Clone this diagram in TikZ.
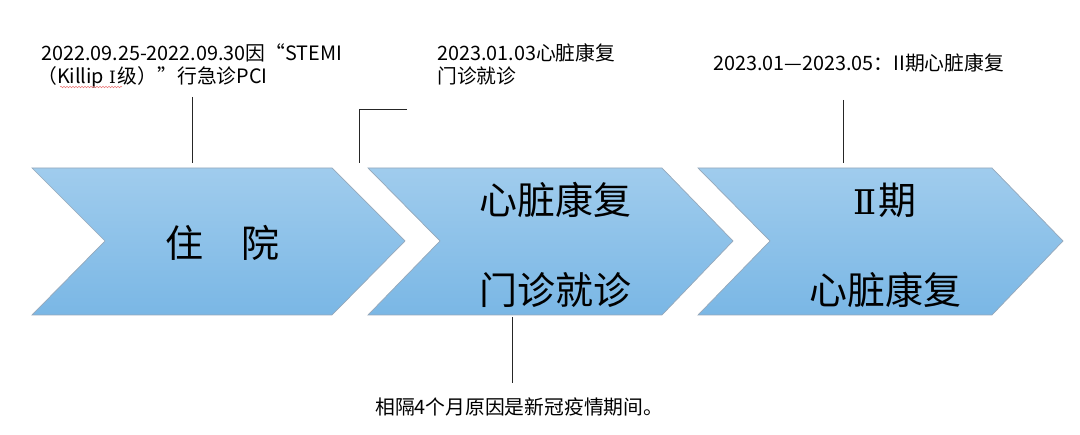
\documentclass[tikz,border=0pt]{standalone}
\usepackage{fontspec}
\setmainfont{Noto Sans CJK SC}
\newfontfamily\romanfont{DejaVu Serif}
\usetikzlibrary{decorations.pathmorphing}
\definecolor{chevtop}{RGB}{160,204,237}
\definecolor{chevbot}{RGB}{122,183,229}
\definecolor{chevborder}{RGB}{150,168,186}
\definecolor{wavyred}{RGB}{235,120,120}
\begin{document}
\begin{tikzpicture}[x=1pt,y=-1pt,
  chev/.style={draw=chevborder, line width=0.7pt, top color=chevtop, bottom color=chevbot},
  big/.style={inner sep=0pt, font=\fontsize{38}{40}\selectfont},
  lbl/.style={inner sep=0pt, anchor=west, font=\fontsize{19.8}{22}\selectfont},
  conn/.style={draw=black!85, line width=1pt}]
\useasboundingbox (0,0) rectangle (1080,435);
% chevrons
\path[chev] (32,168) coordinate (c1tl) -- (332,168) -- (405,241) -- (332,315) -- (32,315) -- (105,241) -- cycle;
\path[chev] (368,168) coordinate (c2tl) -- (662,168) -- (733,241) -- (662,315) -- (368,315) -- (440,241) -- cycle;
\path[chev] (698,168) coordinate (c3tl) -- (992,168) -- (1063,241) -- (992,315) -- (698,315) -- (770,241) -- cycle;
% chevron texts
\node[big] (t1) at (222,243) {住　院};
\node[big] (t2a) at (555,200) {心脏康复};
\node[big] (t2b) at (555,290) {门诊就诊};
\node[big] (t3a) at (885,200) {{\romanfont\fontsize{34}{36}\selectfont Ⅱ}\kern2pt期};
\node[big] (t3b) at (885,290) {心脏康复};
% labels
\node[lbl] (l1a) at (41,53) {2022.09.25-2022.09.30因“STEMI};
\node[lbl] (l1b) at (37,77) {（Killip\kern5pt{\romanfont\fontsize{17}{20}\selectfont Ⅰ}\kern2pt级）”行急诊PCI};
\node[lbl] (l2a) at (437,53) {2023.01.03心脏康复};
\node[lbl] (l2b) at (437,76) {门诊就诊};
\node[lbl] (l3) at (713,63) {2023.01—2023.05：II期心脏康复};
\node[lbl] (l4) at (375,407) {相隔4个月原因是新冠疫情期间。};
% spell-check underline
\draw[wavyred, line width=0.5pt, decorate, decoration={snake, amplitude=0.8pt, segment length=3pt}] (60,87) coordinate (w1) -- (122,87) coordinate (w2);
% connectors
\coordinate (k1t) at (192,97);
\coordinate (k1b) at (192,163);
\draw[conn] (k1t) -- (k1b);
\coordinate (k2e) at (407,110);
\coordinate (k2b) at (359,163);
\draw[conn] (k2e) -| (k2b);
\coordinate (k3t) at (843,100);
\coordinate (k3b) at (843,163);
\draw[conn] (k3t) -- (k3b);
\coordinate (k4t) at (512,317);
\coordinate (k4b) at (512,383);
\draw[conn] (k4t) -- (k4b);
\end{tikzpicture}
\end{document}
